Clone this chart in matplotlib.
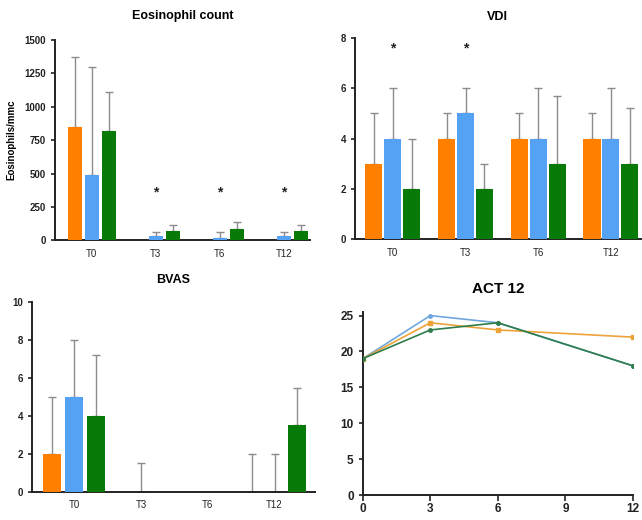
import matplotlib.pyplot as plt
import numpy as np

plt.rcParams['font.family'] = ['Liberation Sans', 'DejaVu Sans']

times = ['T0', 'T3', 'T6', 'T12']
c_orange = '#ff8000'
c_blue = '#55a2f5'
c_green = '#077a07'

# eosinophil count (bar value, top of error bar)
eos_orange = [850, 0, 0, 0]
eos_orange_top = [1370, np.nan, np.nan, np.nan]
eos_blue = [490, 35, 15, 30]
eos_blue_top = [1300, 65, 65, 65]
eos_green = [820, 70, 85, 70]
eos_green_top = [1110, 115, 140, 115]
eos_stars = [np.nan, 360, 360, 360]

# VDI
vdi_orange = [3, 4, 4, 4]
vdi_orange_top = [5, 5, 5, 5]
vdi_blue = [4, 5, 4, 4]
vdi_blue_top = [6, 6, 6, 6]
vdi_green = [2, 2, 3, 3]
vdi_green_top = [4, 3, 5.7, 5.2]
vdi_stars = [7.6, 7.6, np.nan, np.nan]

# BVAS
bvas_orange = [2, 0, 0, 0]
bvas_orange_top = [5, np.nan, np.nan, 2]
bvas_blue = [5, 0, 0, 0]
bvas_blue_top = [8, 1.5, np.nan, 2]
bvas_green = [4, 0, 0, 3.5]
bvas_green_top = [7.2, np.nan, np.nan, 5.5]

# ACT
act_months = [0, 3, 6, 12]
act_blue = [19, 25, 24, 18]
act_orange = [19, 24, 23, 22]
act_green = [19, 23, 24, 18]


def style_axes(ax):
    for s in ['top', 'right']:
        ax.spines[s].set_visible(False)
    for s in ['left', 'bottom']:
        ax.spines[s].set_linewidth(1.4)
        ax.spines[s].set_color('#222222')
    ax.tick_params(axis='y', length=3, width=1.2, labelsize=7, colors='#222222')
    ax.tick_params(axis='x', length=0, labelsize=7, pad=6, colors='#222222')
    for lab in ax.get_yticklabels():
        lab.set_fontweight('bold')


def bar_panel(ax, series, stars, width, offset):
    x = np.arange(len(times))
    for k, (vals, tops, col) in enumerate(series):
        xs = x + (k - 1) * offset
        vals = np.array(vals, dtype=float)
        tops = np.array(tops, dtype=float)
        ax.bar(xs, vals, width, color=col, zorder=3)
        m = ~np.isnan(tops)
        ax.errorbar(xs[m], vals[m], yerr=[np.zeros(m.sum()), tops[m] - vals[m]],
                    fmt='none', ecolor='#8c8c8c', elinewidth=1.0,
                    capsize=3, capthick=1.0, zorder=2)
    for xi, s in zip(x, stars):
        if not np.isnan(s):
            ax.text(xi, s, '*', ha='center', va='center', fontsize=10,
                    fontweight='bold', color='#222222')
    ax.set_xticks(x)
    ax.set_xticklabels(times)


fig = plt.figure(figsize=(6.42, 5.2), dpi=100)

# Eosinophil count
ax1 = fig.add_axes([0.086, 0.538, 0.397, 0.385])
bar_panel(ax1, [(eos_orange, eos_orange_top, c_orange),
                (eos_blue, eos_blue_top, c_blue),
                (eos_green, eos_green_top, c_green)],
          eos_stars, 0.22, 0.265)
ax1.set_xlim(-0.57, 3.41)
ax1.set_ylim(0, 1500)
ax1.set_yticks([0, 250, 500, 750, 1000, 1250, 1500])
ax1.set_ylabel('Eosinophils/mmc', fontsize=7, fontweight='bold', labelpad=6)
ax1.set_title('Eosinophil count', fontsize=9, fontweight='bold', pad=15)
style_axes(ax1)

# VDI
ax2 = fig.add_axes([0.553, 0.54, 0.445, 0.387])
bar_panel(ax2, [(vdi_orange, vdi_orange_top, c_orange),
                (vdi_blue, vdi_blue_top, c_blue),
                (vdi_green, vdi_green_top, c_green)],
          vdi_stars, 0.235, 0.26)
ax2.set_xlim(-0.52, 3.41)
ax2.set_ylim(0, 8)
ax2.set_yticks([0, 2, 4, 6, 8])
ax2.set_title('VDI', fontsize=9, fontweight='bold', pad=13)
style_axes(ax2)

# BVAS
ax3 = fig.add_axes([0.05, 0.054, 0.44, 0.365])
bar_panel(ax3, [(bvas_orange, bvas_orange_top, c_orange),
                (bvas_blue, bvas_blue_top, c_blue),
                (bvas_green, bvas_green_top, c_green)],
          [np.nan] * 4, 0.27, 0.33)
ax3.set_xlim(-0.63, 3.6)
ax3.set_ylim(0, 10)
ax3.set_yticks([0, 2, 4, 6, 8, 10])
ax3.set_title('BVAS', fontsize=9, fontweight='bold', pad=14)
style_axes(ax3)

# ACT 12
ax4 = fig.add_axes([0.565, 0.048, 0.421, 0.352])
ax4.plot(act_months, act_blue, color='#6fa6dc', lw=1.2, marker='o', ms=2.5, zorder=2)
ax4.plot(act_months, act_orange, color='#eda23a', lw=1.2, marker='s', ms=2.5, zorder=3)
ax4.plot(act_months, act_green, color='#2f7d4a', lw=1.2, marker='o', ms=2.5, zorder=4)
ax4.set_xlim(0, 12)
ax4.set_ylim(0, 25.5)
ax4.set_xticks([0, 3, 6, 9, 12])
ax4.set_yticks([0, 5, 10, 15, 20, 25])
ax4.set_title('ACT 12', fontsize=11, fontweight='bold', pad=14)
style_axes(ax4)
ax4.tick_params(axis='both', labelsize=8.5)
ax4.tick_params(axis='x', length=4, width=1.2, pad=2)
for lab in ax4.get_xticklabels() + ax4.get_yticklabels():
    lab.set_fontweight('bold')

fig.savefig('out.png', dpi=100)
